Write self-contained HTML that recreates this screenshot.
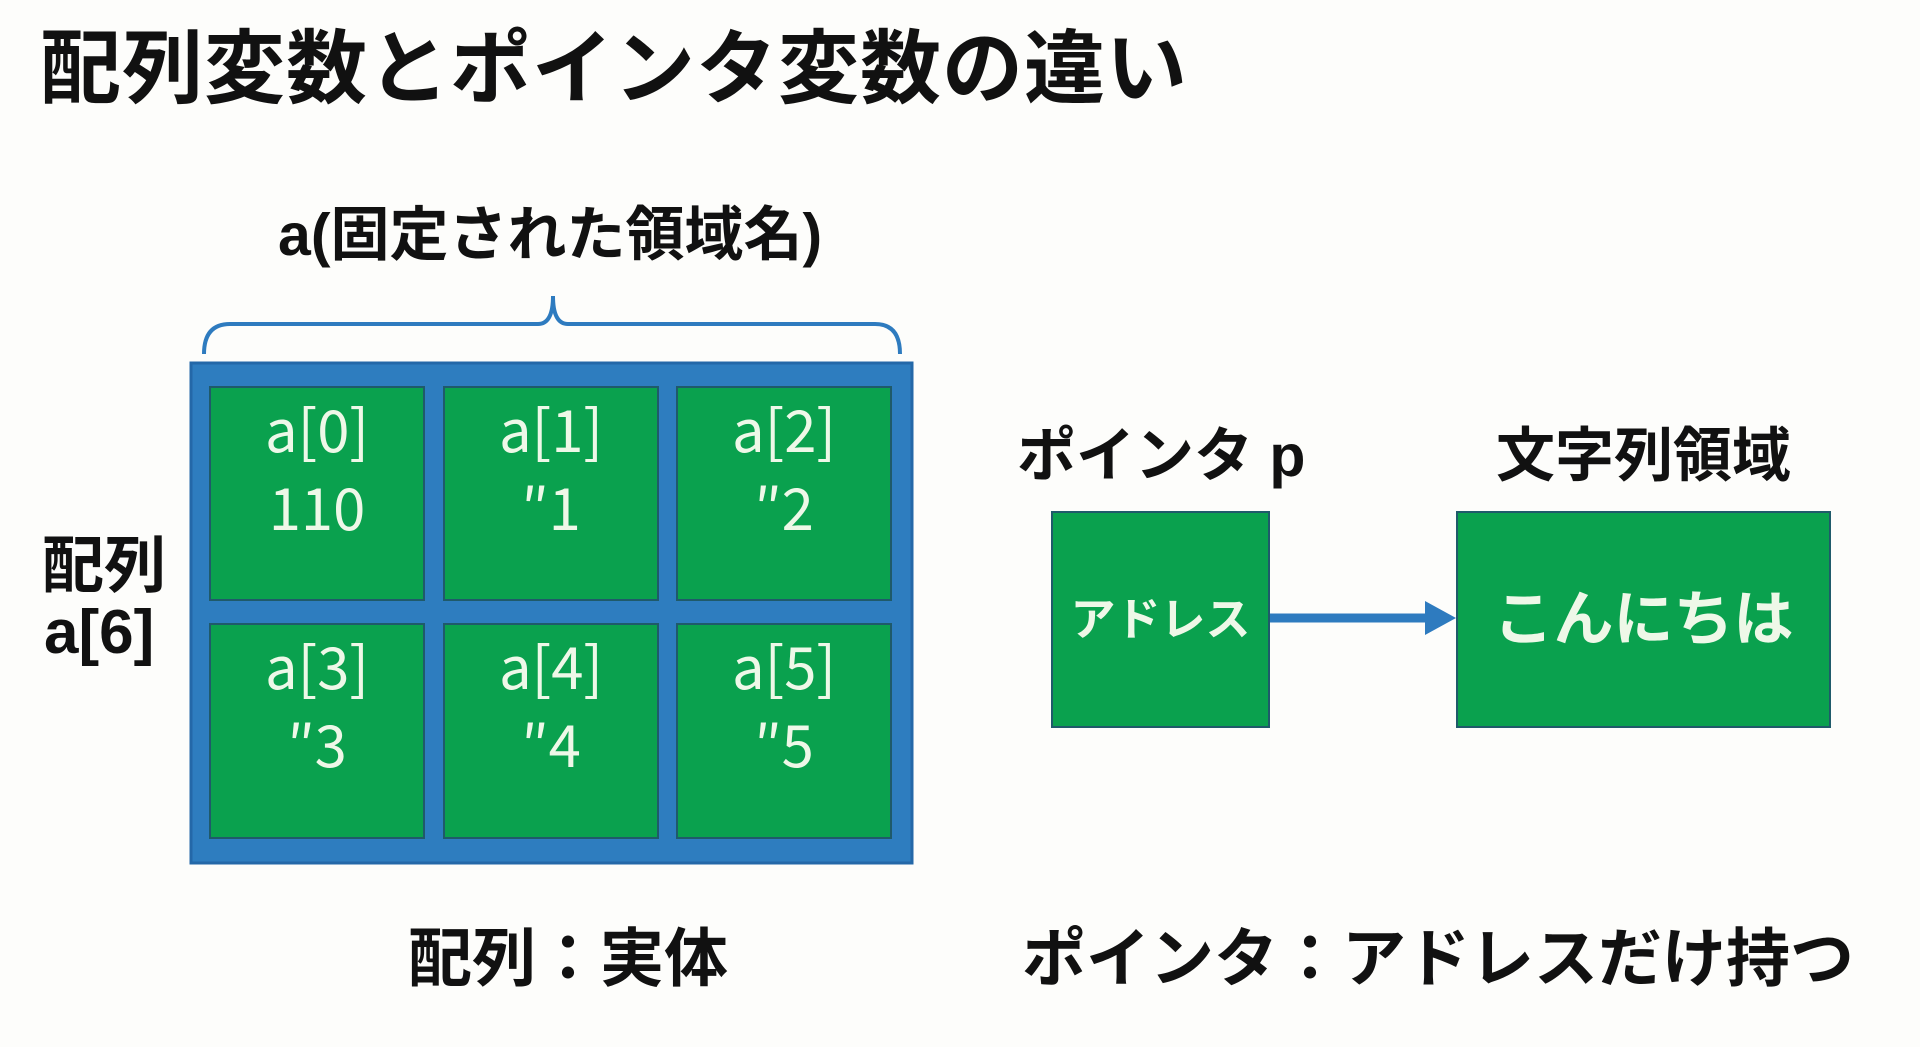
<!DOCTYPE html>
<html><head><meta charset="utf-8"><style>
body{margin:0;width:1920px;height:1047px;background:#fdfdfb;position:relative;overflow:hidden;font-family:"Liberation Sans","Noto Sans CJK JP",sans-serif;}
.t{position:absolute;white-space:nowrap;font-weight:bold;color:#111;line-height:1;}
.c{position:absolute;background:#0aa14e;border:2px solid #1f5a6a;box-sizing:border-box;color:#eef8e8;text-align:center;}
.cell{font-size:58px;line-height:78px;padding-top:0px;font-family:"Noto Sans CJK JP",sans-serif;}
</style></head><body>
<div class="t" style="left:40px;top:30px;font-size:81px;letter-spacing:1px;">配列変数とポインタ変数の違い</div>
<div class="t" style="left:278px;top:206px;font-size:59px;">a(固定された領域名)</div>
<svg style="position:absolute;left:0;top:0" width="1920" height="1047">
<path d="M204 354 Q204 324 230 324 L538 324 Q553 324 553 296 Q553 324 568 324 L875 324 Q900 324 900 354" fill="none" stroke="#2e7bbf" stroke-width="4"/>
<rect x="191" y="363" width="721" height="500" fill="#2e7dbf" stroke="#2468a8" stroke-width="3"/>
<line x1="1269" y1="618" x2="1430" y2="618" stroke="#2e7bbf" stroke-width="9"/>
<polygon points="1425,601 1456,618 1425,635" fill="#2e7bbf"/>
</svg>
<div class="c cell" style="left:209px;top:386px;width:216px;height:215px">a[0]<br>110</div>
<div class="c cell" style="left:443px;top:386px;width:216px;height:215px">a[1]<br>″1</div>
<div class="c cell" style="left:676px;top:386px;width:216px;height:215px">a[2]<br>″2</div>
<div class="c cell" style="left:209px;top:623px;width:216px;height:216px">a[3]<br>″3</div>
<div class="c cell" style="left:443px;top:623px;width:216px;height:216px">a[4]<br>″4</div>
<div class="c cell" style="left:676px;top:623px;width:216px;height:216px">a[5]<br>″5</div>
<div class="t" style="left:42px;top:536px;font-size:62px;">配列</div>
<div class="t" style="left:44px;top:602px;font-size:62px;">a[6]</div>
<div class="t" style="left:1017px;top:427px;font-size:59px;">ポインタ p</div>
<div class="t" style="left:1496px;top:427px;font-size:59px;">文字列領域</div>
<div class="c" style="left:1051px;top:511px;width:219px;height:217px;font-size:45px;font-weight:bold;line-height:213px;">アドレス</div>
<div class="c" style="left:1456px;top:511px;width:375px;height:217px;font-size:60px;font-weight:bold;line-height:213px;">こんにちは</div>
<div class="t" style="left:408px;top:927px;font-size:64px;">配列：実体</div>
<div class="t" style="left:1022px;top:927px;font-size:64px;">ポインタ：アドレスだけ持つ</div>
</body></html>
